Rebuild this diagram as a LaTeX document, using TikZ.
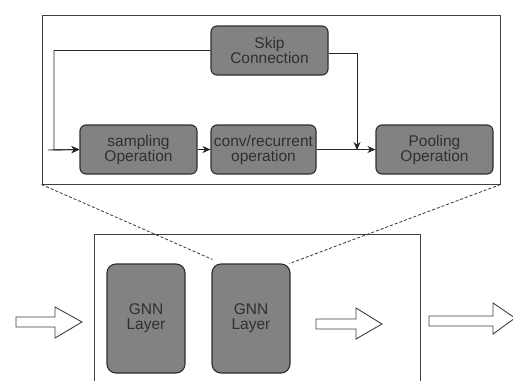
\documentclass[tikz,border=0pt]{standalone}
\usepackage{fontspec}
\setmainfont{Liberation Sans}
\usetikzlibrary{arrows.meta}
\definecolor{boxfill}{HTML}{828282}
\definecolor{boxline}{HTML}{2E2E2E}
\definecolor{txt}{HTML}{303030}
\begin{document}
\begin{tikzpicture}[x=1pt,y=-1pt,
  opbox/.style={draw=boxline, line width=1.1pt, fill=boxfill, rounded corners=6pt,
    minimum width=117pt, minimum height=49pt, inner sep=0pt, align=center,
    text=txt, font=\fontsize{15.5}{15}\selectfont},
  gnnbox/.style={opbox, minimum width=78pt, minimum height=109pt, rounded corners=9pt},
  flow/.style={draw=black!85, line width=0.9pt, -{Stealth[length=8pt,width=7pt]}},
  frame/.style={draw=black!75, line width=1pt},
  blockarrow/.style={draw=black!75, line width=0.9pt, fill=white}]
\useasboundingbox (0,0) rectangle (513,380);
\fill[white] (0,0) rectangle (513,380);

% top zoom frame
\node[frame, minimum width=458pt, minimum height=169pt, inner sep=0pt] (zoom) at (271,99.5) {};

% nodes
\node[opbox] (skip) at (269.5,50.5) {Skip\\Connection};
\node[opbox] (samp) at (138.5,149.5) {sampling\\Operation};
\node[opbox, minimum width=105pt] (conv) at (263.5,149.5) {conv/recurrent\\operation};
\node[opbox] (pool) at (434.5,149.5) {Pooling\\Operation};

\coordinate (in) at (48,150);
\coordinate (split) at (54,150);
\coordinate (join) at (357,150);

% connectors
\draw[flow] (in) -- (samp.west);
\draw[flow] (skip.west) -| (split) -- (samp.west);
\draw[flow] (samp.east) -- (conv.west);
\draw[flow] (conv.east) -- (pool.west);
\draw[flow] ([yshift=-3pt]skip.east) -| (join);

% bottom container
\draw[frame] (94,382) -- (94,234) -- (420,234) -- (420,382);

\node[gnnbox] (g1) at (146,318.5) {GNN\\Layer};
\node[gnnbox] (g2) at (251,318.5) {GNN\\Layer};

% zoom lines
\draw[dashed, line width=0.8pt, dash pattern=on 3pt off 2pt, draw=black!80] (zoom.south west) -- ([xshift=1pt,yshift=4pt]g2.north west);
\draw[dashed, line width=0.8pt, dash pattern=on 3pt off 2pt, draw=black!80] (zoom.south east) -- ([xshift=-1pt]g2.north east);

% block arrows
\draw[blockarrow] (16,317) -- (55,317) -- (55,307) -- (82,322) -- (55,338) -- (55,327) -- (16,327) -- cycle;
\draw[blockarrow] (316,319) -- (356,319) -- (356,308) -- (382,324) -- (356,339) -- (356,329) -- (316,329) -- cycle;
\draw[blockarrow] (429,316) -- (493,316) -- (493,303) -- (515,318) -- (493,334) -- (493,326) -- (429,326) -- cycle;
\end{tikzpicture}
\end{document}
